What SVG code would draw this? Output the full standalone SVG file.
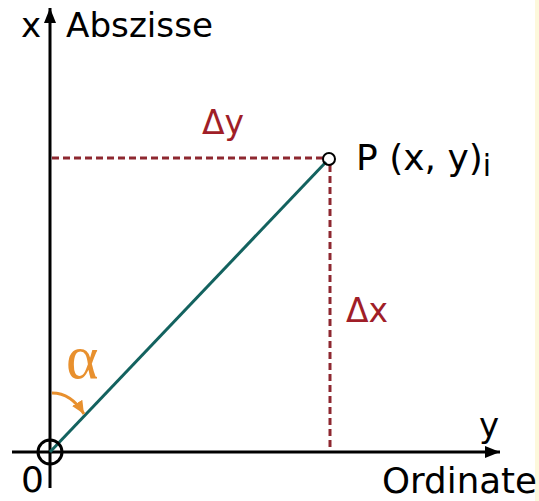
<svg xmlns="http://www.w3.org/2000/svg" width="539" height="501" viewBox="0 0 539 501">
  <style>
    .lbl { font-family: "DejaVu Sans", "Liberation Sans", sans-serif; fill: #000; }
    .red { font-family: "DejaVu Sans", "Liberation Sans", sans-serif; fill: #a01e28; }
    .axis { stroke: #000; stroke-width: 3; fill: none; }
    .dash { stroke: #8e2830; stroke-width: 3; stroke-dasharray: 7 4; fill: none; }
    .vec { stroke: #13625f; stroke-width: 3; fill: none; }
    .ring { stroke: #000; fill: none; }
  </style>
  <defs>
    <marker id="arr" markerUnits="userSpaceOnUse" markerWidth="16" markerHeight="14" refX="15" refY="7" orient="auto">
      <polygon points="0,1 15,7 0,13" fill="#000"/>
    </marker>
    <marker id="oarr" markerUnits="userSpaceOnUse" markerWidth="14" markerHeight="12" refX="13" refY="6" orient="auto">
      <polygon points="0,0 13,6 0,12" fill="#e8902e"/>
    </marker>
  </defs>
  <rect x="0" y="0" width="539" height="501" fill="#fff"/>
  <rect x="535" y="0" width="4" height="501" fill="#fdf8dc"/>

  <g id="connectors">
    <line class="axis" x1="50" y1="488" x2="50" y2="8" marker-end="url(#arr)"/>
    <line class="axis" x1="12" y1="452" x2="500" y2="452" marker-end="url(#arr)"/>
    <line class="dash" x1="52" y1="158" x2="323" y2="158"/>
    <line class="dash" x1="330" y1="165" x2="330" y2="450"/>
    <line class="vec" x1="50" y1="452" x2="326" y2="162"/>
    <path d="M52,393 C66,393 76,401 84,414" stroke="#e8902e" stroke-width="3" fill="none" marker-end="url(#oarr)"/>
  </g>

  <g id="origin">
    <circle class="ring" cx="50" cy="452" r="12" stroke-width="3"/>
    <text class="lbl" x="21" y="492" font-size="36">0</text>
  </g>

  <g id="point-P">
    <circle class="ring" cx="329" cy="159" r="6" stroke-width="2"/>
    <text class="lbl" x="356" y="170" font-size="36">P (x, y)<tspan font-size="30" dy="6">i</tspan></text>
  </g>

  <g id="x-axis-label">
    <text class="lbl" x="21" y="37" font-size="34">x</text>
    <text class="lbl" x="66" y="37" font-size="33" textLength="147" lengthAdjust="spacingAndGlyphs">Abszisse</text>
  </g>

  <g id="y-axis-label">
    <text class="lbl" x="479" y="437" font-size="34">y</text>
    <text class="lbl" x="382" y="493" font-size="35" textLength="155" lengthAdjust="spacingAndGlyphs">Ordinate</text>
  </g>

  <g id="delta-y">
    <text class="red" x="202" y="134" font-size="33">Δy</text>
  </g>

  <g id="delta-x">
    <text class="red" x="346" y="322" font-size="33">Δx</text>
  </g>

  <g id="alpha">
    <text x="66" y="378" font-family="Liberation Serif, serif" font-size="62" fill="#e8902e">α</text>
  </g>
</svg>
